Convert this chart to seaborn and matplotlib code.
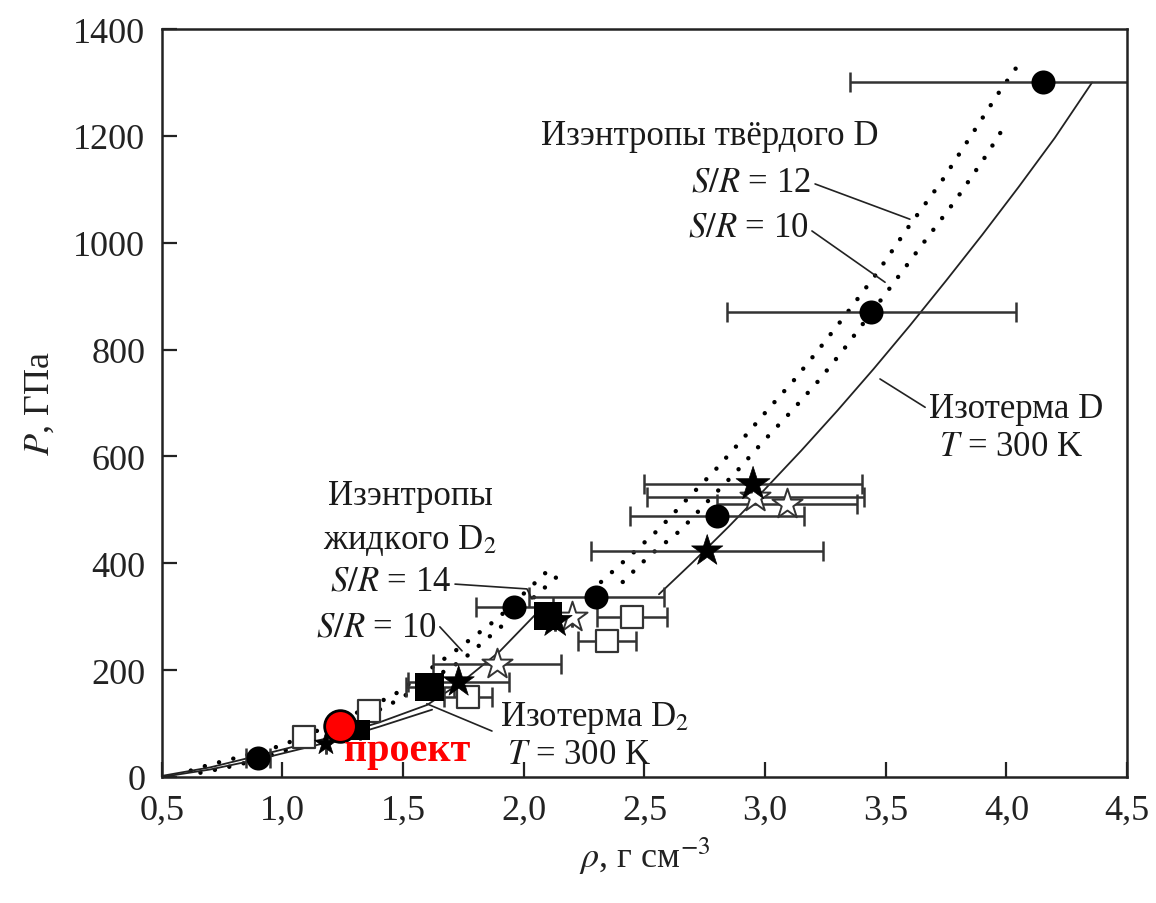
import numpy as np
import pandas as pd
import seaborn as sns
import matplotlib.pyplot as plt

# --- data ---
# isentropes of liquid D2 (dotted)
liq14_x = [0.62, 0.69, 0.81, 0.99, 1.20, 1.46, 1.71, 1.89, 2.12]
liq14_y = [12, 22, 36, 58, 97, 153, 234, 296, 395]
liq10_x = [0.66, 0.75, 0.88, 1.02, 1.24, 1.47, 1.74, 1.91, 2.15]
liq10_y = [8, 16, 30, 51, 88, 142, 217, 283, 380]

# isentropes of solid D (dotted)
sol12_x = [2.32, 2.44, 2.56, 2.67, 2.79, 2.90, 3.01, 3.12, 3.22, 3.32, 3.46, 3.59, 3.73, 3.85, 3.97, 4.06]
sol12_y = [365, 414, 464, 517, 573, 629, 687, 743, 799, 857, 941, 1027, 1114, 1198, 1282, 1340]
sol10_x = [2.41, 2.52, 2.65, 2.76, 2.88, 2.99, 3.11, 3.22, 3.32, 3.51, 3.65, 3.79, 3.92, 4.00]
sol10_y = [365, 414, 462, 515, 571, 627, 685, 741, 797, 911, 996, 1080, 1166, 1224]

# isotherms T = 300 K (solid)
isoD2_x = [0.50, 0.70, 0.90, 1.18, 1.40, 1.60, 1.75, 1.90, 2.05]
isoD2_y = [2, 18, 40, 72, 102, 135, 180, 235, 305]
isoD_low_x = [0.50, 0.70, 0.90, 1.18, 1.40, 1.62]
isoD_low_y = [0, 14, 33, 64, 94, 126]
isoD_x = [2.56, 2.70, 2.85, 3.00, 3.15, 3.30, 3.45, 3.60, 3.75, 3.90, 4.05, 4.20, 4.355]
isoD_y = [342, 402, 469, 539, 611, 686, 764, 845, 929, 1015, 1104, 1196, 1300]

# experimental points
circ_x = [0.90, 1.96, 2.30, 2.80, 3.44, 4.15]
circ_y = [35, 318, 337, 488, 870, 1301]
circ_err = [0.05, 0.16, 0.28, 0.36, 0.60, 0.80]

star_x = [1.18, 1.73, 2.13, 2.76, 2.95]
star_y = [62, 178, 292, 423, 548]
star_err = [0, 0.21, 0, 0.48, 0.45]

ostar_x = [1.89, 2.20, 2.96, 3.09]
ostar_y = [211, 300, 524, 511]
ostar_err = [0.265, 0, 0.45, 0.29]

osq_x = [1.09, 1.36, 1.77, 2.345, 2.45]
osq_y = [75, 124, 150, 255, 299]
osq_err = [0, 0, 0.10, 0.12, 0.145]

fsq_x = [1.32, 1.61, 2.10]
fsq_y = [88, 168, 301]
fsq_err = [0, 0.10, 0]

proj_x = [1.238]
proj_y = [95]

x_ticks = [0.5, 1.0, 1.5, 2.0, 2.5, 3.0, 3.5, 4.0, 4.5]
x_labels = ['0,5', '1,0', '1,5', '2,0', '2,5', '3,0', '3,5', '4,0', '4,5']
y_ticks = [0, 200, 400, 600, 800, 1000, 1200, 1400]

sns.set_theme(style='ticks')
plt.rcParams['font.family'] = ['Liberation Serif', 'DejaVu Serif']
plt.rcParams['mathtext.fontset'] = 'stix'

fig = plt.figure(figsize=(11.56, 9.04), dpi=100)
ax = fig.add_axes([0.140, 0.1394, 0.835, 0.8274])

dot = dict(color='black', lw=3.2, linestyle=(0, (0.01, 3.3)), dash_capstyle='round')
for xs, ys in [(liq14_x, liq14_y), (liq10_x, liq10_y), (sol12_x, sol12_y), (sol10_x, sol10_y)]:
    sns.lineplot(x=xs, y=ys, ax=ax, sort=False, estimator=None, **dot)
for xs, ys in [(isoD2_x, isoD2_y), (isoD_low_x, isoD_low_y), (isoD_x, isoD_y)]:
    sns.lineplot(x=xs, y=ys, ax=ax, sort=False, estimator=None, color='#222222', lw=1.3)

eb = dict(fmt='none', ecolor='#333333', elinewidth=1.8, capsize=7, capthick=1.8)
for xs, ys, es in [(circ_x, circ_y, circ_err), (star_x, star_y, star_err),
                   (ostar_x, ostar_y, ostar_err), (osq_x, osq_y, osq_err),
                   (fsq_x, fsq_y, fsq_err)]:
    ax.errorbar(xs, ys, xerr=es, **eb)

sns.scatterplot(x=osq_x, y=osq_y, ax=ax, marker='s', s=230, facecolor='white',
                edgecolor='#333333', linewidth=1.6, zorder=4)
sns.scatterplot(x=ostar_x, y=ostar_y, ax=ax, marker='*', s=520, facecolor='white',
                edgecolor='#333333', linewidth=1.4, zorder=4)
sns.scatterplot(x=fsq_x, y=fsq_y, ax=ax, marker='s', s=[200, 420, 420], color='black',
                edgecolor='black', linewidth=0, zorder=5, legend=False)
sns.scatterplot(x=star_x, y=star_y, ax=ax, marker='*', s=[300, 560, 660, 560, 660], color='black',
                edgecolor='black', linewidth=0.5, zorder=5, legend=False)
sns.scatterplot(x=circ_x, y=circ_y, ax=ax, marker='o', s=300, color='black',
                edgecolor='black', linewidth=0, zorder=5)
sns.scatterplot(x=proj_x, y=proj_y, ax=ax, marker='o', s=520, color='red',
                edgecolor='black', linewidth=2, zorder=7)
ax.text(1.255, 50, 'проект', color='red', fontsize=29, fontweight='bold',
        ha='left', va='center', zorder=8)

# annotations
fs = 25
tc = '#1a1a1a'
ax.text(2.07, 1200, 'Изэнтропы твёрдого D', fontsize=fs, color=tc, ha='left', va='center')
ax.text(3.19, 1114, r'$S/R$ = 12', fontsize=fs, color=tc, ha='right', va='center')
ax.text(3.18, 1029, r'$S/R$ = 10', fontsize=fs, color=tc, ha='right', va='center')
ax.plot([3.207, 3.60], [1110, 1044], color='#222222', lw=1.2)
ax.plot([3.194, 3.497], [1022, 926], color='#222222', lw=1.2)

ax.text(4.04, 690, 'Изотерма D', fontsize=fs, color=tc, ha='center', va='center')
ax.text(4.02, 618, r'$T$ = 300 K', fontsize=fs, color=tc, ha='center', va='center')
ax.plot([3.476, 3.663], [745, 692], color='#222222', lw=1.2)

ax.text(1.53, 526, 'Изэнтропы', fontsize=fs, color=tc, ha='center', va='center')
ax.text(1.53, 445, 'жидкого D$_2$', fontsize=fs, color=tc, ha='center', va='center')
ax.text(1.70, 367, r'$S/R$ = 14', fontsize=fs, color=tc, ha='right', va='center')
ax.text(1.64, 281, r'$S/R$ = 10', fontsize=fs, color=tc, ha='right', va='center')
ax.plot([1.715, 2.013, 2.034], [361, 352, 333], color='#222222', lw=1.2)
ax.plot([1.652, 1.744], [281, 236], color='#222222', lw=1.2)

ax.text(1.90, 112, 'Изотерма D$_2$', fontsize=fs, color=tc, ha='left', va='center')
ax.text(1.93, 43, r'$T$ = 300 K', fontsize=fs, color=tc, ha='left', va='center')
ax.plot([1.598, 1.868], [137, 86], color='#222222', lw=1.2)

ax.set_xlim(0.5, 4.5)
ax.set_ylim(0, 1400)
ax.set_xticks(x_ticks)
ax.set_xticklabels(x_labels)
ax.set_yticks(y_ticks)
ax.tick_params(direction='in', length=11, width=1.6, labelsize=26, colors='#222222',
               top=False, right=False, pad=12)
for sp in ax.spines.values():
    sp.set_linewidth(1.8)
    sp.set_color('#222222')
ax.set_xlabel(r'$\rho$, г см$^{-3}$', fontsize=26, color='#222222', labelpad=6)
ax.set_ylabel(r'$P$, ГПа', fontsize=26, color='#222222', labelpad=12)

fig.savefig('out.png', dpi=100)
